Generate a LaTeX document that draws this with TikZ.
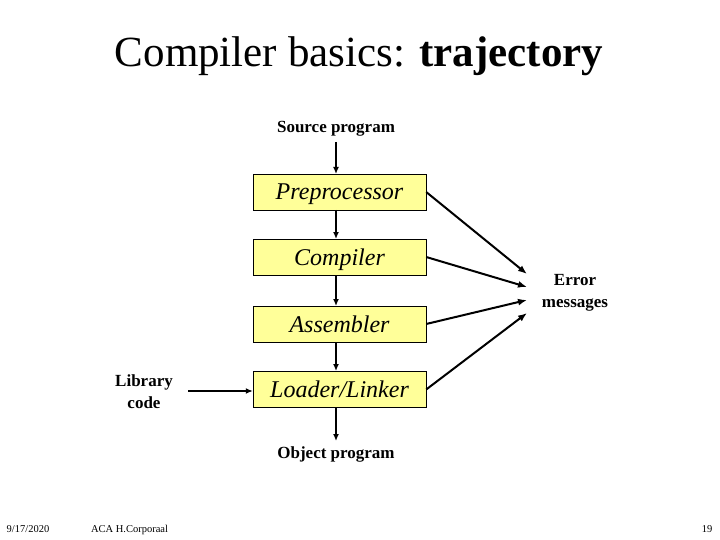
\documentclass[tikz,border=0pt]{standalone}
\usepackage{fontspec}
\setmainfont{Liberation Serif}
\usetikzlibrary{arrows.meta}
\definecolor{boxyellow}{RGB}{255,255,153}
\tikzset{
  stage/.style={draw, fill=boxyellow, minimum width=173pt, minimum height=36pt, inner sep=0pt, text height=20pt, text depth=4pt, font=\fontsize{24}{26}\selectfont\itshape},
  lbl/.style={font=\fontsize{17}{22}\selectfont\bfseries, align=center},
  foot/.style={font=\fontsize{10.5}{12}\selectfont, anchor=base},
  flow/.style={-{Latex[length=7pt,width=6pt]}, line width=1.3pt},
  err/.style={-{Latex[length=9pt,width=7pt]}, line width=2pt},
}
\begin{document}
\begin{tikzpicture}[x=1pt, y=-1pt]
\useasboundingbox (0,0) rectangle (720,540);
\node[anchor=base] (T_0) at (359,67) {\fontsize{43}{46}\selectfont Compiler basics: \textbf{trajectory}};
\node[lbl] (S_0) at (336,129) {Source program};
\node[stage] (P_0) at (339.5,192) {Preprocessor};
\draw[flow] (336,142) -- (336,174);
\node[stage] (P_1) at (339.5,257) {Compiler};
\draw[flow] (336,210) -- (336,239);
\node[stage] (P_2) at (339.5,324) {Assembler};
\draw[flow] (336,275) -- (336,306);
\node[stage] (P_3) at (339.5,389.5) {Loader/Linker};
\draw[flow] (336,342) -- (336,371);
\node[lbl] (O_0) at (336,454) {Object program};
\draw[flow] (336,408) -- (336,441);
\node[lbl] (L_0) at (144,392) {Library\\code};
\draw[flow] (188,391) -- (P_3.west |- 0,391);
% error messages
\node[lbl] (E_0) at (575,293) {Error\\messages};
\coordinate (E_1) at (527,274);
\coordinate (E_2) at (527,287);
\coordinate (E_3) at (527,300);
\coordinate (E_4) at (527,313);
\draw[err] (P_0.east) -- (E_1);
\draw[err] (P_1.east) -- (E_2);
\draw[err] (P_2.east) -- (E_3);
\draw[err] (P_3.east) -- (E_4);
% footer
\node[foot] (F_0) at (28,532) {9/17/2020};
\node[foot] (F_1) at (129.5,532) {ACA H.Corporaal};
\node[foot] (F_2) at (707,532) {19};
\end{tikzpicture}
\end{document}
